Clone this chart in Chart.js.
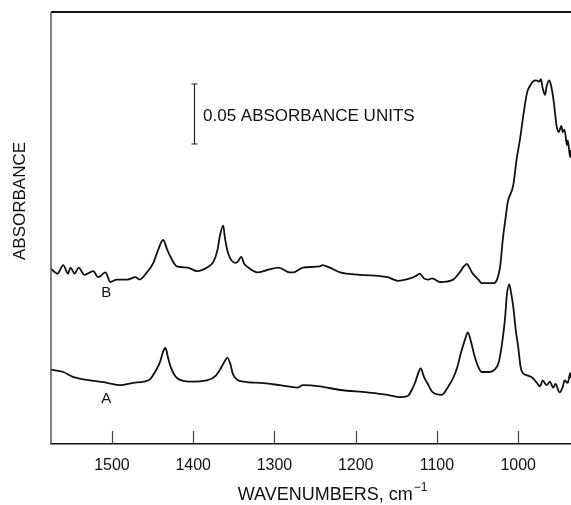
<html>
<head>
<script src="https://cdn.jsdelivr.net/npm/chart.js@4.4.1/dist/chart.umd.min.js"></script>
<style>
  body { margin: 0; padding: 0; background: #fff; }
  #wrap { width: 571px; height: 505px; }
</style>
</head>
<body>
<div id="wrap"><canvas id="spectrum" width="571" height="505"></canvas></div>
<script>
// wavenumbers (cm-1) and absorbance
const wnB = [1575,1567,1560,1554,1551,1546,1541,1534,1523,1517,1508,1502,1494,1481,1471,1466,1457,1449,1443,1437,1432,1428,1420,1407,1395,1383,1375,1370,1367,1363,1361,1357,1348,1345,1341,1337,1334,1321,1309,1295,1281,1277,1265,1244,1241,1232,1219,1195,1161,1148,1133,1126,1121,1116,1111,1106,1096,1080,1072,1067,1063,1060,1056,1049,1045,1031,1026,1022,1019,1015,1013,1006,1002,998,993,989,985,982,978,974,972,970,967,965,962,960,957,954,953,950,947,945,943,940,939,936,935];
const absB = [0.146,0.142,0.149,0.142,0.147,0.142,0.147,0.141,0.144,0.139,0.143,0.135,0.137,0.137,0.139,0.137,0.143,0.151,0.162,0.170,0.162,0.156,0.148,0.147,0.144,0.147,0.152,0.162,0.174,0.182,0.172,0.159,0.151,0.152,0.156,0.150,0.148,0.143,0.145,0.147,0.143,0.143,0.147,0.148,0.149,0.147,0.143,0.141,0.139,0.136,0.138,0.140,0.142,0.138,0.137,0.138,0.135,0.137,0.143,0.148,0.150,0.147,0.142,0.137,0.134,0.134,0.137,0.149,0.170,0.191,0.201,0.216,0.237,0.253,0.277,0.293,0.299,0.302,0.303,0.302,0.304,0.297,0.291,0.298,0.303,0.300,0.289,0.272,0.266,0.260,0.265,0.260,0.262,0.249,0.253,0.239,0.245];

const wnA = [1575,1560,1548,1527,1506,1490,1474,1461,1453,1447,1441,1437,1434,1431,1427,1420,1404,1383,1372,1367,1362,1358,1354,1351,1338,1318,1293,1272,1265,1244,1219,1186,1161,1145,1136,1131,1127,1123,1120,1116,1112,1105,1094,1086,1080,1075,1070,1065,1062,1058,1054,1049,1045,1035,1029,1024,1020,1016,1014,1011,1009,1006,1003,1000,997,994,988,982,977,973,970,965,961,957,954,949,945,943,939,936,935];
const absA = [0.062,0.060,0.056,0.053,0.051,0.049,0.051,0.052,0.054,0.060,0.068,0.077,0.080,0.072,0.063,0.055,0.052,0.053,0.057,0.062,0.068,0.072,0.066,0.058,0.052,0.051,0.049,0.047,0.049,0.048,0.045,0.043,0.041,0.039,0.040,0.045,0.051,0.059,0.063,0.056,0.051,0.043,0.041,0.048,0.055,0.064,0.077,0.088,0.093,0.085,0.074,0.064,0.060,0.060,0.062,0.068,0.083,0.106,0.124,0.133,0.127,0.114,0.095,0.081,0.064,0.059,0.057,0.055,0.051,0.048,0.053,0.049,0.052,0.047,0.050,0.043,0.048,0.053,0.051,0.059,0.055];

const xTicks = [1500, 1400, 1300, 1200, 1100, 1000];
const xMin = 935, xMax = 1575;
const yMin = 0, yMax = 0.36;
const scaleBar = [0.25, 0.30];   // 0.05 absorbance units
const traceLabels = [{ text: 'B', wn: 1507, abs: 0.126 }, { text: 'A', wn: 1507, abs: 0.038 }];

const FONT = '"Liberation Sans", Arial, sans-serif';

function pts(xs, ys) {
  return xs.map((x, i) => ({ x: x, y: ys[i] }));
}

const extras = {
  id: 'extras',
  afterDraw(chart) {
    const c = chart.ctx, a = chart.chartArea;
    const xs = chart.scales.x, ys = chart.scales.y;
    c.save();
    // frame: top and left lines
    c.strokeStyle = '#111';
    c.lineWidth = 2;
    c.beginPath(); c.moveTo(a.left, a.top); c.lineTo(a.right, a.top); c.stroke();
    c.strokeStyle = '#555';
    c.lineWidth = 1.5;
    c.beginPath(); c.moveTo(a.left, a.top); c.lineTo(a.left, a.bottom); c.stroke();
    // inward tick marks
    c.strokeStyle = '#444';
    c.lineWidth = 1.2;
    xTicks.forEach(v => {
      const px = Math.round(xs.getPixelForValue(v)) + 0.5;
      c.beginPath(); c.moveTo(px, a.bottom); c.lineTo(px, a.bottom - 13); c.stroke();
    });
    // scale bar
    const bx = 194.5;
    const y0 = ys.getPixelForValue(scaleBar[0]), y1 = ys.getPixelForValue(scaleBar[1]);
    c.strokeStyle = '#222';
    c.lineWidth = 1.2;
    c.beginPath();
    c.moveTo(bx, y0); c.lineTo(bx, y1);
    c.moveTo(bx - 3, y0); c.lineTo(bx + 3, y0);
    c.moveTo(bx - 3, y1); c.lineTo(bx + 3, y1);
    c.stroke();
    c.fillStyle = '#111';
    c.font = '17px ' + FONT;
    c.textAlign = 'left';
    c.textBaseline = 'middle';
    c.fillText('0.05 ABSORBANCE UNITS', 203, 116);
    // trace labels
    c.font = '15px ' + FONT;
    c.textAlign = 'center';
    traceLabels.forEach(t => {
      c.fillText(t.text, xs.getPixelForValue(t.wn), ys.getPixelForValue(t.abs));
    });
    // axis titles
    c.textAlign = 'left';
    const main = 'WAVENUMBERS, cm';
    c.font = '18px ' + FONT;
    const w1 = c.measureText(main).width;
    c.font = '12px ' + FONT;
    const w2 = c.measureText('\u22121').width;
    const tx = 332 - (w1 + w2) / 2;
    c.font = '18px ' + FONT;
    c.fillText(main, tx, 495);
    c.font = '12px ' + FONT;
    c.fillText('\u22121', tx + w1 + 1, 488);
    c.translate(20, 201);
    c.rotate(-Math.PI / 2);
    c.font = '17px ' + FONT;
    c.textAlign = 'center';
    c.fillText('ABSORBANCE', 0, 0);
    c.restore();
  }
};

new Chart(document.getElementById('spectrum'), {
  type: 'line',
  data: {
    datasets: [
      { label: 'B', data: pts(wnB, absB), borderColor: '#111', borderWidth: 1.8, pointRadius: 0, fill: false, cubicInterpolationMode: 'monotone' },
      { label: 'A', data: pts(wnA, absA), borderColor: '#111', borderWidth: 1.8, pointRadius: 0, fill: false, cubicInterpolationMode: 'monotone' }
    ]
  },
  options: {
    responsive: false,
    animation: false,
    layout: { padding: { top: 12, left: 51, right: 0, bottom: 0 } },
    plugins: { legend: { display: false }, tooltip: { enabled: false } },
    scales: {
      x: {
        type: 'linear',
        reverse: true,
        min: xMin,
        max: xMax,
        afterBuildTicks: s => { s.ticks = xTicks.map(v => ({ value: v })); },
        afterFit: s => { s.height = 61; },
        grid: { display: false, drawTicks: false },
        border: { display: true, color: '#111', width: 1.5 },
        ticks: {
          padding: 12, color: '#111', maxRotation: 0,
          font: { family: FONT, size: 16 },
          callback: v => String(v)
        }
      },
      y: {
        display: false,
        min: yMin,
        max: yMax
      }
    }
  },
  plugins: [extras]
});
</script>
</body>
</html>
